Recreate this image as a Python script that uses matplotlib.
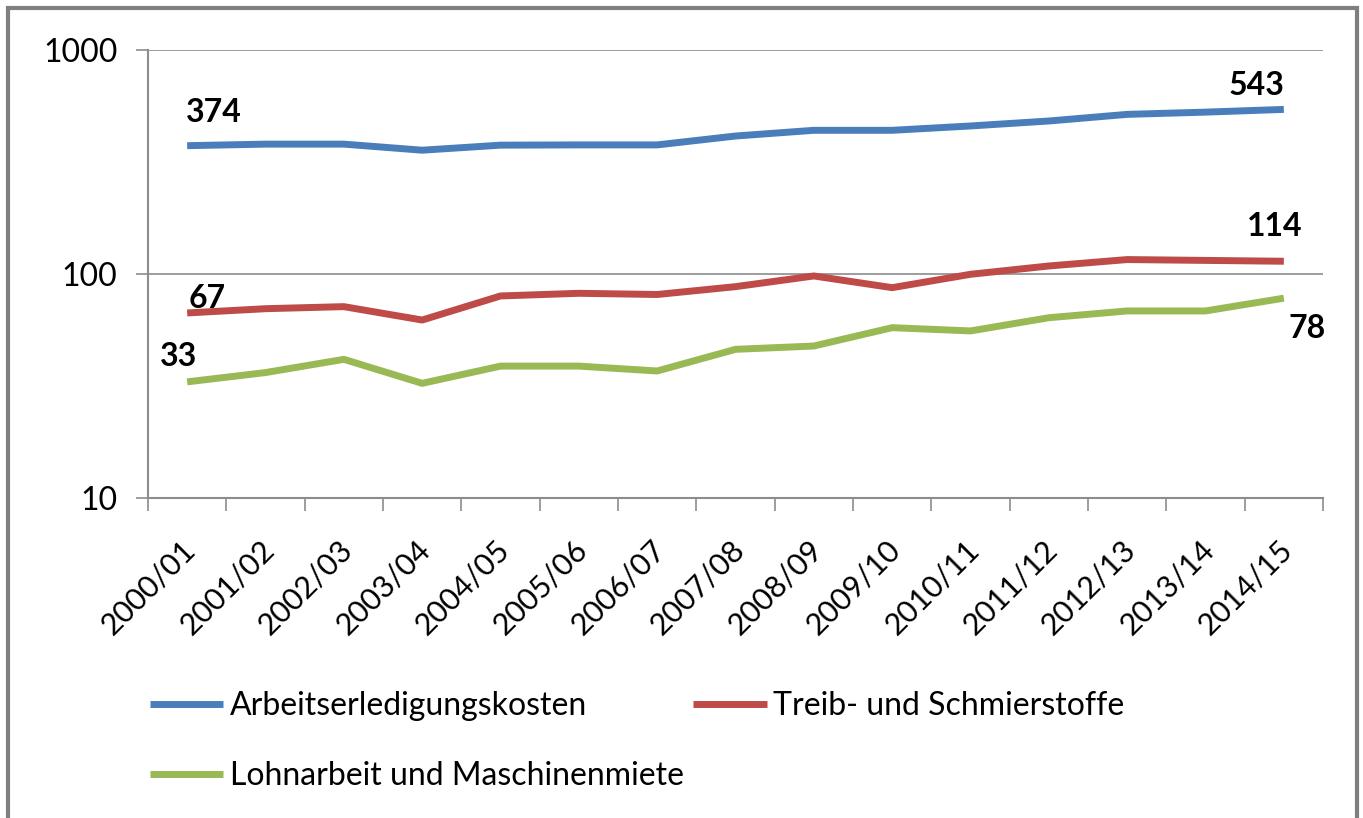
import matplotlib
matplotlib.use('Agg')
import matplotlib.pyplot as plt
import matplotlib.transforms as mtransforms
from matplotlib.patches import Rectangle

plt.rcParams['font.family'] = ['Lato', 'DejaVu Sans']

# data (log scale)
years = ['2000/01', '2001/02', '2002/03', '2003/04', '2004/05', '2005/06', '2006/07',
         '2007/08', '2008/09', '2009/10', '2010/11', '2011/12', '2012/13', '2013/14', '2014/15']
arbeit = [374, 380, 380, 357, 376, 377, 377, 413, 438, 438, 458, 482, 516, 528, 543]
treib = [67, 70, 71.5, 62.3, 79.8, 82, 81, 87.8, 98, 86.9, 99.7, 108.6, 116, 115, 114]
lohn = [33, 36.3, 41.6, 32.5, 38.8, 38.8, 36.9, 46.1, 47.7, 57.6, 55.7, 63.8, 68.4, 68.4, 78]

names = ['Arbeitserledigungskosten', 'Treib- und Schmierstoffe', 'Lohnarbeit und Maschinenmiete']
colors = ['#4A7EBB', '#BE4B48', '#98B954']

W, H = 1363, 818
fig = plt.figure(figsize=(W / 100, H / 100), dpi=100)
ax = fig.add_axes([148 / W, 1 - 498 / H, (1323 - 148) / W, (498 - 50) / H])

x = list(range(len(years)))
lines = []
for vals, c, n in zip([arbeit, treib, lohn], colors, names):
    ln, = ax.plot(x, vals, color=c, lw=5, solid_capstyle='butt', label=n, zorder=3)
    lines.append(ln)

ax.set_yscale('log')
ax.set_ylim(10, 1000)
ax.set_xlim(-0.5, len(years) - 0.5)

grid_c = '#8C8C8C'
for v in [100, 1000]:
    ax.axhline(v, color=grid_c, lw=1.2, zorder=1)

for s in ['top', 'right']:
    ax.spines[s].set_visible(False)
for s in ['left', 'bottom']:
    ax.spines[s].set_color(grid_c)
    ax.spines[s].set_linewidth(1.5)

ax.set_yticks([10, 100, 1000])
ax.set_yticks([], minor=True)
ax.set_yticklabels(['10', '100', '1000'])
ax.tick_params(axis='y', which='major', length=9, width=1.2, color=grid_c,
               labelsize=23, pad=13, labelcolor='black')

# boundary ticks + centred rotated labels
ax.set_xticks([i - 0.5 for i in range(len(years) + 1)])
ax.set_xticklabels([])
ax.set_xticks(x, minor=True)
ax.set_xticklabels(years, minor=True, rotation=45, ha='right', va='center',
                   rotation_mode='anchor', fontsize=22)
ax.tick_params(axis='x', which='major', length=9, width=1.2, color=grid_c)
ax.tick_params(axis='x', which='minor', length=0, pad=34)
off = mtransforms.ScaledTranslation(4 / 100, 0, fig.dpi_scale_trans)
for lab in ax.get_xticklabels(minor=True):
    lab.set_transform(lab.get_transform() + off)

# data labels
lab_kw = dict(textcoords='offset pixels', ha='center', va='center',
              fontsize=23, fontweight='bold', zorder=4)
ax.annotate(f'{arbeit[0]}', (0, arbeit[0]), xytext=(27, 33), **lab_kw)
ax.annotate(f'{arbeit[-1]}', (14, arbeit[-1]), xytext=(-27, 24), **lab_kw)
ax.annotate(f'{treib[0]}', (0, treib[0]), xytext=(20, 14), **lab_kw)
ax.annotate(f'{treib[-1]}', (14, treib[-1]), xytext=(-9, 35), **lab_kw)
ax.annotate(f'{lohn[0]}', (0, lohn[0]), xytext=(-9, 25), **lab_kw)
ax.annotate(f'{lohn[-1]}', (14, lohn[-1]), xytext=(23, -30), **lab_kw)

# legend, row-major order
fig.legend([lines[0], lines[2], lines[1]], [names[0], names[2], names[1]],
           ncol=2, loc='upper left', bbox_to_anchor=(121 / W, 1 - 662 / H),
           frameon=False, fontsize=23, handlelength=2.3, handletextpad=0.2,
           columnspacing=0.3, labelspacing=1.27)

# outer chart border
fig.patches.append(Rectangle((8 / W, -0.01), (1357 - 8) / W, 1 - 8 / H + 0.01,
                             transform=fig.transFigure, fill=False,
                             edgecolor='#7F7F7F', lw=3))

fig.savefig('out.png', dpi=100)
